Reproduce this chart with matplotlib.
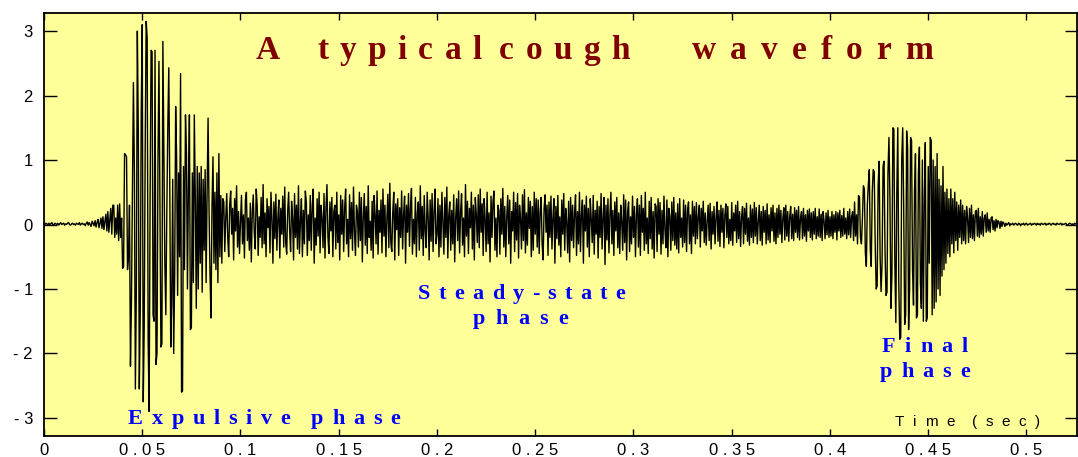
import numpy as np
import matplotlib.pyplot as plt
from matplotlib.transforms import offset_copy

# cough waveform, one sample every 0.5 ms
dt = 0.0005

lead_in = [0.01, 0.0, 0.02, 0.01, -0.01, 0.02, 0.0, 0.01, 0.03, 0.0, -0.01, 0.02, 0.01, 0.0, 0.02, -0.01, 0.01, 0.03, 0.0, 0.01,
           0.02, -0.01, 0.01, 0.0, 0.02, 0.03, 0.0, -0.01, 0.01, 0.02, 0.0, 0.01, -0.01, 0.02, 0.01, 0.0, 0.03, -0.01, 0.01, 0.02,
           0.0, 0.01, -0.02, 0.02, 0.04, -0.01, 0.03, 0.0, -0.03, 0.05, 0.02, -0.02, 0.06, -0.04, 0.03, 0.08, -0.05, 0.02, 0.1, -0.06,
           0.12, -0.08, 0.05, 0.16, -0.1, 0.2, -0.12, 0.08, 0.25, -0.15, 0.3, 0.3, -0.2, 0.1, -0.15]

expulsive = [0.3, -0.25, 0.32, -0.2, 0.1, -0.68, -0.65, 1.1, 1.08, 1.05,
             -0.7, -0.5, 0.3, -2.2, -1.2, 0.5, 2.2, 0.8, -2.55, -1.0,
             3.0, 1.4, -2.55, -1.3, 1.8, 3.1, -2.75, -1.6, 1.2, 3.15,
             2.9, -1.8, -2.9, 0.4, 2.7, 2.68, -1.4, -1.5, 2.7, -2.17,
             -2.0, 1.0, 2.53, 0.3, -1.9, -1.85, 2.84, 1.2, -0.6, -1.4,
             0.2, 1.5, 2.43, 0.6, -1.9, -1.2, 0.7, -2.0, -0.8, 1.83,
             1.0, -1.1, 0.8, -0.5, 2.34, -2.6, -2.58, 0.9, -0.7, 1.7,
             1.1, -1.0, 0.6, 1.7, -1.63, -1.6, 0.8, -0.9, 1.7, 0.4,
             -1.3, 0.9, -1.0, 0.8, -0.6, 0.9, -1.05, 0.7, -0.4, 0.85,
             -0.9, 0.5, 1.65, 0.2, -0.8, -1.45, 0.3, 1.05, -0.6, 0.5,
             -0.7, 0.8, -0.9, 1.1, -0.5, 0.45, -0.6, 0.4]

steady = [0.35, -0.42, 0.1, 0.48, -0.2, -0.5, 0.3, 0.52, -0.15, 0.25, -0.55, 0.4, -0.1, 0.6, -0.35, 0.2, -0.45, 0.05, 0.45, -0.3,
          0.15, -0.52, 0.38, 0.5, -0.25, 0.1, -0.4, 0.33, -0.58, 0.2, 0.46, -0.12, -0.38, 0.55, 0.3, -0.48, 0.12, -0.2, 0.42, -0.36,
          0.62, -0.3, 0.18, -0.5, 0.4, -0.05, 0.28, -0.44, 0.5, 0.1, -0.6, 0.35, -0.22, 0.47, -0.4, 0.08, 0.38, -0.52, 0.25, -0.15,
          0.44, -0.35, 0.58, -0.28, -0.46, 0.2, 0.5, -0.1, -0.42, 0.36, 0.1, -0.55, 0.48, -0.2, 0.3, -0.38, 0.6, -0.45, 0.05, 0.4,
          -0.5, 0.22, -0.3, 0.52, 0.35, -0.48, 0.15, -0.25, 0.45, -0.4, 0.28, 0.55, -0.6, 0.1, -0.32, 0.4, -0.18, 0.5, -0.44, 0.3,
          0.1, -0.36, 0.48, -0.52, 0.26, 0.62, -0.2, -0.45, 0.35, -0.1, 0.42, -0.5, 0.2, 0.3, -0.38, 0.5, -0.28, 0.15, -0.55, 0.45,
          -0.15, 0.38, -0.42, 0.25, 0.55, -0.3, 0.08, -0.5, 0.46, -0.22, 0.34, -0.4, 0.58, -0.1, -0.48, 0.3, 0.2, -0.35, 0.5, -0.25,
          0.42, -0.58, 0.12, 0.48, -0.32, 0.28, -0.45, 0.6, -0.2, 0.05, -0.4, 0.36, -0.52, 0.45, 0.15, -0.3, 0.52, -0.46, 0.22, -0.12,
          0.38, -0.44, 0.55, -0.18, 0.3, -0.5, 0.1, 0.47, -0.36, 0.64, -0.28, -0.42, 0.2, 0.5, -0.55, 0.32, -0.08, 0.4, -0.48, 0.26,
          -0.2, 0.52, -0.38, 0.15, 0.44, -0.6, 0.3, -0.12, 0.48, -0.34, 0.25, 0.56, -0.46, 0.08, -0.3, 0.42, -0.5, 0.18, 0.35, -0.4,
          0.6, -0.22, 0.28, -0.48, 0.45, -0.1, -0.36, 0.5, 0.12, -0.55, 0.38, -0.26, 0.48, -0.42, 0.2, 0.55, -0.3, -0.15, 0.4, -0.5,
          0.3, -0.35, 0.5, 0.05, -0.46, 0.42, -0.2, 0.58, -0.52, 0.15, 0.35, -0.4, 0.22, -0.3, 0.46, -0.58, 0.1, 0.4, -0.25, 0.52,
          -0.44, 0.2, 0.48, -0.32, 0.1, -0.5, 0.62, -0.18, 0.36, -0.45, 0.25, -0.05, 0.5, -0.38, 0.3, -0.55, 0.42, 0.15, -0.28, 0.46,
          -0.36, 0.55, -0.12, 0.32, -0.48, 0.4, 0.08, -0.42, 0.5, -0.3, 0.18, -0.58, 0.44, -0.2, 0.36, 0.52, -0.4, 0.1, -0.5, 0.3,
          0.22, -0.46, 0.4, -0.15, 0.56, -0.35, 0.28, -0.5, 0.12, 0.45, -0.3, 0.38, -0.6, 0.2, -0.1, 0.5, -0.42, 0.34, -0.24, 0.48,
          -0.52, 0.3, 0.1, -0.38, 0.46, -0.25, 0.54, -0.44, 0.18, -0.32, 0.42, -0.06, 0.36, -0.5, 0.28, -0.4, 0.5, -0.15, 0.4, -0.35,
          0.38, -0.45, 0.2, 0.42, -0.3, -0.55, 0.25, 0.46, -0.12, 0.3, -0.48, 0.35, -0.2, 0.44, -0.38, 0.1, 0.4, -0.6, 0.28, -0.22,
          0.45, -0.32, 0.12, -0.5, 0.38, -0.15, 0.48, -0.4, 0.25, 0.05, -0.44, 0.36, -0.58, 0.42, -0.25, 0.3, -0.36, 0.18, 0.46, -0.48,
          0.2, -0.3, 0.5, -0.42, 0.15, 0.38, -0.6, 0.3, -0.1, 0.44, -0.35, 0.25, -0.5, 0.4, 0.08, -0.28, 0.45, -0.46, 0.22, -0.15,
          0.36, -0.52, 0.28, -0.2, 0.48, -0.38, 0.1, 0.42, -0.62, 0.3, -0.24, 0.4, -0.44, 0.15, 0.5, -0.3, 0.22, -0.48, 0.35, -0.1,
          0.42, -0.36, 0.18, -0.45, 0.3, 0.05, -0.4, 0.46, -0.28, 0.38, -0.55, 0.2, 0.35, -0.42, 0.12, -0.3, 0.44, -0.2, 0.28, -0.5,
          0.15, 0.4, -0.35, 0.3, -0.48, 0.45, -0.12, 0.25, -0.4, 0.5, -0.3, 0.1, -0.45, 0.36, -0.22, 0.42, -0.38, 0.2, -0.52, 0.32,
          0.28, -0.42, 0.4, -0.15, 0.34, -0.46, 0.22, -0.3, 0.44, -0.08, -0.36, 0.38, -0.5, 0.25, 0.12, -0.4, 0.35, -0.25, 0.42, -0.32,
          0.18, -0.38, 0.32, -0.44, 0.4, -0.2, 0.1, -0.35, 0.38, -0.28, 0.3, -0.42, 0.22, 0.35, -0.3, 0.15, -0.45, 0.36, -0.18, 0.28,
          -0.3, 0.34, -0.22, 0.12, 0.3, -0.35, 0.25, -0.1, 0.36, -0.28, 0.18, -0.32, 0.05, 0.3, -0.25, 0.33, -0.38, 0.2, -0.15, 0.28,
          -0.3, 0.1, 0.35, -0.26, 0.22, -0.34, 0.3, -0.12, 0.25, -0.36, 0.15, 0.32, -0.2, 0.28, -0.3, 0.08, -0.25, 0.34, -0.32, 0.18,
          -0.1, 0.3, -0.28, 0.36, -0.22, 0.2, -0.34, 0.12, 0.28, -0.3, 0.25, -0.15, 0.33, -0.26, 0.1, -0.32, 0.3, -0.2, 0.24, -0.28,
          0.34, -0.18, 0.26, -0.3, 0.05, 0.3, -0.25, 0.2, -0.32, 0.28, -0.12, 0.22, -0.3, 0.32, -0.24, 0.15, -0.28, 0.26, -0.1, 0.3,
          -0.26, 0.18, -0.3, 0.25, -0.2, 0.3, -0.15, 0.22, -0.28, 0.1, 0.26, -0.24, 0.3, -0.18, 0.2, -0.26, 0.12, 0.28, -0.22, 0.16,
          -0.25, 0.26, -0.12, 0.22, -0.2, 0.28, -0.24, 0.1, 0.2, -0.22, 0.25, -0.18, 0.15, -0.26, 0.22, -0.1, 0.24, -0.2, 0.18, -0.24,
          0.2, -0.15, 0.25, -0.22, 0.12, -0.18, 0.24, -0.2, 0.16, -0.25, 0.2, 0.05, -0.22, 0.18, -0.16, 0.22, -0.2, 0.12, -0.18, 0.2,
          -0.22, 0.15, -0.12, 0.2, -0.24, 0.18, -0.1, 0.22, -0.2, 0.14, -0.18, 0.25, -0.15, 0.1, -0.22, 0.2, -0.16, 0.24, -0.2, 0.12]

final = [0.2, -0.25, 0.35, -0.18, 0.15, -0.3, 0.45, 0.42, -0.2, -0.3, 0.1, 0.6, 0.55, -0.45, -0.65, 0.3,
         0.62, 0.85, -0.4, -0.65, 0.5, 0.85, 0.82, -0.3, -1.0, -0.95, 0.6, 0.98, -0.5, -1.04,
         -0.6, 0.9, 0.98, -0.4, -1.1, -1.05, 0.8, 1.35, 0.4, -1.3, -0.8, 1.5, 1.48, -0.6, -1.52,
         0.5, 1.5, -0.9, -1.78, -1.75, 1.0, 1.5, 0.3, -1.55, -1.4, 1.45, 1.2, -1.63, -1.0, 1.35,
         1.3, -0.7, -1.25, 0.5, 1.1, -1.45, -1.4, 0.8, 1.2, -0.9, -1.3, 1.0, -1.5, 0.4, 1.27,
         -1.5, -1.45, 0.9, -0.6, 1.35, 1.3, -1.4, 1.0, -1.3, 0.9, -1.2, 1.1, -1.0, 0.7, -1.1,
         0.6, -0.8, 0.9, -0.7, 0.5, -0.6, 0.55, -0.45, 0.4, -0.5,
         0.55, -0.3, 0.4, -0.44, 0.5, -0.25, 0.35, -0.4, 0.3, -0.2, 0.38, -0.3,
         0.3, -0.25, 0.22, -0.3, 0.28, 0.1, -0.28, 0.25, -0.2, 0.3, -0.22, 0.15, -0.25, 0.2, 0.22,
         -0.18, 0.25, -0.2, 0.12, -0.15, 0.2, -0.18, 0.1, 0.15, -0.12, 0.18, -0.1, 0.08, -0.12, 0.1,
         0.12, -0.08, 0.06, -0.1, 0.08, -0.05, 0.06, 0.04, -0.06, 0.05, -0.03, 0.04, 0.02, -0.03]

tail = [0.02, -0.01, 0.01, 0.03, -0.02, 0.01, 0.0, 0.02, -0.01, 0.01, 0.02, 0.0, -0.01, 0.02, 0.01, -0.02, 0.01, 0.0, 0.02, -0.01,
        0.01, 0.02, -0.01, 0.0, 0.01, 0.02, -0.01, 0.01, 0.0, 0.02, 0.01, -0.01, 0.02, 0.0, 0.01, -0.01, 0.02, 0.01, 0.0, 0.01,
        0.02, -0.01, 0.01, 0.0, 0.02, 0.01, -0.01, 0.01, 0.02, 0.0, 0.01, -0.01, 0.02, 0.01, 0.0, 0.01, 0.02, -0.01, 0.01, 0.0,
        0.01, 0.02, 0.0, -0.01, 0.01, 0.02, 0.01, 0.0, 0.01, -0.01, 0.02, 0.01]

x_ticks = [0, 0.05, 0.1, 0.15, 0.2, 0.25, 0.3, 0.35, 0.4, 0.45, 0.5]
x_labels = ['0', '0 . 0 5', '0 . 1', '0 . 1 5', '0 . 2', '0 . 2 5', '0 . 3', '0 . 3 5', '0 . 4', '0 . 4 5', '0 . 5']
y_ticks = [-3, -2, -1, 0, 1, 2, 3]
y_labels = ['- 3', '- 2', '- 1', '0', '1', '2', '3']

signal = np.array(lead_in + expulsive + steady + final + tail)
t = np.arange(len(signal)) * dt

fig = plt.figure(figsize=(10.78, 4.57), dpi=100)
ax = fig.add_axes([44 / 1078, 21 / 457, 1033 / 1078, 423 / 457])
ax.set_facecolor('#ffff99')

ax.plot(t, signal, color='black', lw=1.0)

ax.set_xlim(0, 0.5257)
ax.set_ylim(-3.28, 3.28)
ax.set_xticks(x_ticks)
ax.set_xticklabels(x_labels)
ax.set_yticks(y_ticks)
ax.set_yticklabels(y_labels)
ax.tick_params(axis='both', direction='in', top=True, right=True, labelsize=12, width=1,
               labelfontfamily='Liberation Sans')
ax.tick_params(axis='x', length=5, pad=5)
ax.tick_params(axis='y', length=9, pad=8)
for sp in ax.spines.values():
    sp.set_linewidth(1.3)

renderer = fig.canvas.get_renderer()


def spaced_text(left, right, y, s, word_gap, **kw):
    """Letter-spaced text stretched between two pixel columns, baseline at y (data)."""
    widths = []
    for ch in s:
        if ch == ' ':
            widths.append(None)
            continue
        tmp = ax.text(0, 0, ch, **kw)
        widths.append(tmp.get_window_extent(renderer).width)
        tmp.remove()
    letters = [w for w in widths if w is not None]
    n_spaces = len(widths) - len(letters)
    track = 0
    if len(letters) > 1:
        track = (right - left - sum(letters) - n_spaces * word_gap) / (len(letters) - 1)
    x_data = 0.0
    dx = left - ax.transData.transform((x_data, y))[0]
    for ch, w in zip(s, widths):
        if w is None:
            dx += word_gap
            continue
        tr = offset_copy(ax.transData, fig=fig, x=dx, y=0, units='dots')
        ax.text(x_data, y, ch, transform=tr, ha='left', va='baseline', **kw)
        dx += w + track


serif = dict(family='Liberation Serif', fontweight='bold')
title = dict(serif, fontsize=24, color='#800000')
blue = dict(serif, fontsize=16, color='#0000ff')

spaced_text(256, 278, 2.56, 'A', 0, **title)
spaced_text(317, 630, 2.56, 'typical cough', 6, **title)
spaced_text(692, 933, 2.56, 'waveform', 0, **title)
spaced_text(128, 400, -3.10, 'Expulsive phase', 12, **blue)
spaced_text(418, 625, -1.16, 'Steady-state', 0, **blue)
spaced_text(473, 568, -1.55, 'phase', 0, **blue)
spaced_text(882, 968, -1.98, 'Final', 0, **blue)
spaced_text(880, 970, -2.37, 'phase', 0, **blue)
spaced_text(895, 1040, -3.13, 'Time (sec)', 9, family='Liberation Sans', fontsize=11, color='black')

fig.savefig('out.png', dpi=100)
